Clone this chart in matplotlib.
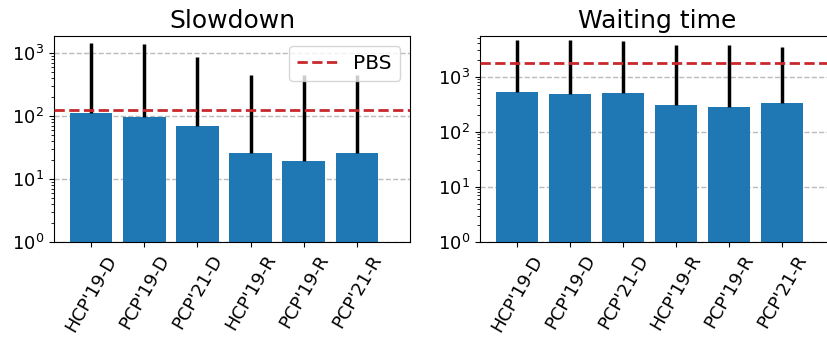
import numpy as np
import matplotlib
matplotlib.use('Agg')
import matplotlib.pyplot as plt


LABELS = ["HCP'19-D", "PCP'19-D", "PCP'21-D", "HCP'19-R", "PCP'19-R", "PCP'21-R"]

SLOWDOWN_MEAN = [111, 96, 69.5, 26.5, 19.3, 26.5]
SLOWDOWN_TOP = [1480, 1420, 883, 455, 455, 455]
SLOWDOWN_PBS = 124

WAIT_MEAN = [525, 478, 500, 305, 282, 333]
WAIT_TOP = [4650, 4650, 4460, 3720, 3720, 3470]
WAIT_PBS = 1780


def draw_panel(ax, title, means, tops, pbs, ymax, legend=False):
    x = np.arange(len(LABELS))
    means = np.array(means, dtype=float)
    upper = np.array(tops, dtype=float) - means
    yerr = np.vstack([np.zeros_like(means), upper])

    ax.bar(x, means, width=0.8, color='#1f77b4', zorder=2)
    ax.errorbar(x, means, yerr=yerr, fmt='none', ecolor='black',
                elinewidth=2.5, capsize=0, zorder=3)
    ax.axhline(pbs, color='#c8282b', linestyle='--', linewidth=2, label='PBS', zorder=4)

    ax.set_yscale('log')
    ax.set_ylim(1, ymax)
    ax.set_xlim(-0.7, 6.0)
    ax.set_xticks(x)
    ax.set_xticklabels(LABELS, rotation=60)
    ax.tick_params(labelsize=13)
    ax.set_title(title, fontsize=18)
    ax.yaxis.grid(True, which='major', linestyle='--', color='#bbbbbb', linewidth=1, zorder=0)
    ax.set_axisbelow(True)

    if legend:
        ax.legend(loc='upper right', fontsize=14.5)


fig = plt.figure(figsize=(8.27, 3.4), dpi=100)
ax1 = fig.add_axes([0.0653, 0.288, 0.4305, 0.606])
ax2 = fig.add_axes([0.5804, 0.288, 0.4293, 0.606])

draw_panel(ax1, 'Slowdown', SLOWDOWN_MEAN, SLOWDOWN_TOP, SLOWDOWN_PBS, 1885, legend=True)
draw_panel(ax2, 'Waiting time', WAIT_MEAN, WAIT_TOP, WAIT_PBS, 5410)

fig.savefig('out.png', dpi=100)
